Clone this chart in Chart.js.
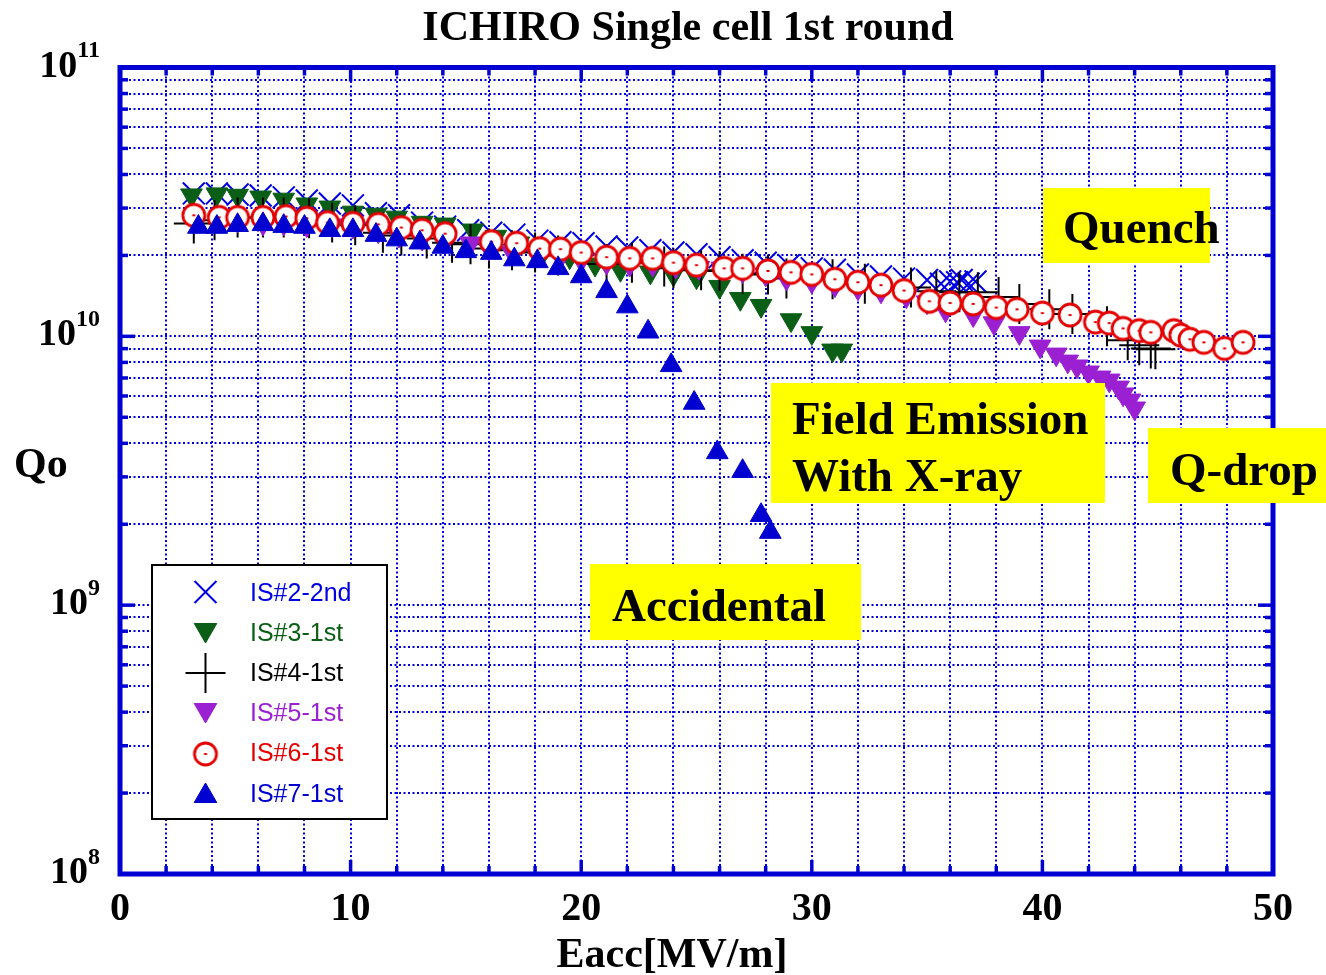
<!DOCTYPE html>
<html>
<head>
<meta charset="utf-8">
<title>ICHIRO Single cell 1st round</title>
<script src="https://cdn.jsdelivr.net/npm/chart.js"></script>
<style>
  html, body { margin: 0; padding: 0; background: #fff; }
  #c { display: block; }
</style>
</head>
<body>
<canvas id="c" width="1326" height="975"></canvas>
<script>
// ---- Measured data: Eacc [MV/m] and Qo (in units of 1e10) per cavity test ----
const eacc2 = [3.2, 4.2, 5.1, 6.1, 7.1, 8.1, 9.1, 10.1, 11.1, 12.1, 13.1, 14.1, 15.1, 16.1, 17.1, 18.1, 19.1, 20.1, 21.1, 22.0, 23.0, 24.0, 25.0, 26.0, 27.0, 28.0, 29.0, 30.0, 31.0, 32.0, 33.0, 34.0, 35.0, 35.6, 36.0, 36.3, 36.5, 36.8, 37.1];
const q2 = [3.40, 3.40, 3.37, 3.34, 3.29, 3.20, 3.12, 3.07, 2.87, 2.82, 2.65, 2.56, 2.48, 2.43, 2.39, 2.27, 2.24, 2.22, 2.16, 2.14, 2.09, 2.05, 2.02, 1.97, 1.92, 1.88, 1.84, 1.79, 1.77, 1.70, 1.67, 1.64, 1.62, 1.57, 1.60, 1.59, 1.62, 1.57, 1.60];

const eacc3 = [3.1, 4.2, 5.1, 6.1, 7.1, 8.1, 9.1, 10.1, 11.1, 12.0, 13.1, 14.1, 15.3, 16.3, 17.3, 18.4, 19.5, 20.6, 21.7, 23.0, 24.0, 25.0, 26.0, 26.9, 27.8, 29.1, 30.0, 30.9, 31.3];
const q3 = [3.35, 3.38, 3.34, 3.29, 3.23, 3.10, 3.02, 2.89, 2.84, 2.77, 2.65, 2.61, 2.48, 2.35, 2.22, 2.09, 1.97, 1.85, 1.77, 1.73, 1.70, 1.66, 1.53, 1.38, 1.30, 1.15, 1.03, 0.887, 0.887];

const eacc4 = [3.2, 4.1, 5.1, 6.2, 7.1, 8.2, 9.2, 10.2, 11.4, 12.2, 13.3, 14.4, 15.2, 16.0, 17.0, 18.0, 19.0, 21.1, 22.2, 23.6, 24.0, 25.2, 26.0, 27.0, 28.1, 28.9, 30.9, 32.3, 34.3, 35.4, 36.4, 37.2, 38.1, 39.0, 40.3, 41.3, 42.8, 43.7, 44.2, 44.7, 44.9];
const q4 = [2.63, 2.70, 2.77, 2.77, 2.77, 2.75, 2.65, 2.59, 2.43, 2.37, 2.31, 2.23, 2.20, 2.12, 2.09, 2.05, 2.00, 1.86, 1.88, 1.82, 1.79, 1.76, 1.75, 1.71, 1.70, 1.64, 1.63, 1.57, 1.52, 1.47, 1.46, 1.46, 1.40, 1.32, 1.26, 1.21, 1.09, 0.967, 0.926, 0.902, 0.895];

const eacc5 = [5.1, 6.2, 7.1, 8.1, 9.2, 10.1, 11.2, 12.1, 13.1, 14.1, 15.2, 16.0, 17.0, 18.1, 19.1, 20.0, 21.1, 22.1, 23.1, 24.1, 25.1, 26.1, 27.0, 28.0, 28.9, 30.0, 31.0, 32.0, 33.0, 34.1, 35.0, 35.8, 37.0, 37.9, 39.0, 39.9, 40.6, 41.1, 41.5, 42.0, 42.5, 42.9, 43.3, 43.5, 43.8, 44.0];
const q5 = [2.70, 2.63, 2.63, 2.59, 2.59, 2.56, 2.46, 2.37, 2.31, 2.25, 2.22, 2.12, 2.05, 2.00, 1.97, 1.92, 1.88, 1.85, 1.85, 1.82, 1.80, 1.79, 1.75, 1.70, 1.64, 1.60, 1.55, 1.51, 1.47, 1.41, 1.34, 1.25, 1.20, 1.12, 1.03, 0.918, 0.857, 0.807, 0.774, 0.735, 0.704, 0.686, 0.646, 0.609, 0.578, 0.540];

const eacc6 = [3.2, 4.3, 5.1, 6.2, 7.2, 8.1, 9.0, 10.1, 11.2, 12.2, 13.1, 14.1, 16.1, 17.2, 18.2, 19.1, 20.0, 21.1, 22.1, 23.1, 24.0, 25.0, 26.2, 27.0, 28.1, 29.1, 30.0, 31.0, 32.0, 33.0, 34.0, 35.1, 36.0, 37.0, 38.0, 38.9, 40.0, 41.2, 42.3, 42.9, 43.5, 44.2, 44.7, 45.7, 46.0, 46.4, 47.0, 47.9, 48.7];
const q6 = [2.82, 2.77, 2.77, 2.77, 2.79, 2.75, 2.65, 2.63, 2.61, 2.54, 2.48, 2.41, 2.25, 2.22, 2.12, 2.11, 2.05, 1.97, 1.95, 1.95, 1.88, 1.84, 1.79, 1.79, 1.75, 1.73, 1.70, 1.63, 1.59, 1.55, 1.48, 1.35, 1.33, 1.32, 1.28, 1.26, 1.22, 1.20, 1.13, 1.12, 1.07, 1.05, 1.035, 1.05, 1.01, 0.975, 0.95, 0.902, 0.95];

const eacc7 = [3.4, 4.2, 5.1, 6.2, 7.1, 8.0, 9.1, 10.1, 11.1, 12.0, 13.0, 14.0, 15.0, 16.1, 17.1, 18.1, 19.0, 20.0, 21.1, 22.0, 22.9, 23.9, 24.9, 25.9, 27.0, 27.8, 28.2];
const q7 = [2.55, 2.55, 2.59, 2.61, 2.57, 2.55, 2.48, 2.48, 2.38, 2.29, 2.23, 2.15, 2.07, 2.04, 1.93, 1.90, 1.79, 1.67, 1.47, 1.29, 1.04, 0.78, 0.565, 0.37, 0.315, 0.216, 0.187];

const seriesNames = ['IS#2-2nd', 'IS#3-1st', 'IS#4-1st', 'IS#5-1st', 'IS#6-1st', 'IS#7-1st'];
const Q_UNIT = 1e10;

// ---- Axis definitions ----
const xMin = 0, xMax = 50, xStep = 2, xLabelEvery = 10;
const yExponents = [8, 9, 10, 11];
const yMultipliers = [1, 2, 3, 4, 5, 6, 7, 8, 9];
const yTickValues = [];
yExponents.forEach(e => yMultipliers.forEach(m => {
  const v = m * Math.pow(10, e);
  if (v <= 1e11) yTickValues.push(v);
}));

const titleText = 'ICHIRO Single cell 1st round';
const xTitle = 'Eacc[MV/m]';
const yTitle = 'Qo';
const notes = [
  { lines: ['Quench'], box: [1043, 188, 167, 75], textX: 1063, base: [243] },
  { lines: ['Field Emission', 'With X-ray'], box: [771, 383, 334, 120], textX: 792, base: [434, 491] },
  { lines: ['Q-drop'], box: [1148, 428, 178, 75], textX: 1170, base: [485] },
  { lines: ['Accidental'], box: [590, 564, 271, 76], textX: 612, base: [621] }
];

// ---- Styling ----
const FRAME = '#0000D2';
const GRID = '#0000DC';
const XBLUE = '#0000E6';
const GREEN = '#0B5E16';
const PURPLE = '#9A20D2';
const RED = '#E40000';
const TRI_BLUE = '#0000D0';
const SERIF = '"Liberation Serif", "Times New Roman", serif';
const SANS = '"Liberation Sans", Arial, sans-serif';

function points(xs, qs) {
  return xs.map((x, i) => ({ x: x, y: qs[i] * Q_UNIT }));
}

// open circle with a centre dot, used as an image point style
function ringMarker() {
  const c = document.createElement('canvas');
  c.width = 30; c.height = 30;
  const g = c.getContext('2d');
  g.beginPath();
  g.arc(15, 15, 11, 0, Math.PI * 2);
  g.fillStyle = '#ffffff';
  g.fill();
  g.lineWidth = 2.8;
  g.strokeStyle = RED;
  g.stroke();
  g.fillStyle = RED;
  g.fillRect(13.5, 14, 3, 2);
  return c;
}
const ring = ringMarker();

const datasets = [
  { label: seriesNames[0], data: points(eacc2, q2), pointStyle: 'crossRot', pointRadius: 15.5,
    pointBorderColor: XBLUE, pointBackgroundColor: XBLUE, pointBorderWidth: 2, order: 5, color: XBLUE },
  { label: seriesNames[1], data: points(eacc3, q3), pointStyle: 'triangle', pointRotation: 180, pointRadius: 12.5,
    pointBorderColor: GREEN, pointBackgroundColor: GREEN, pointBorderWidth: 1, order: 4, color: GREEN },
  { label: seriesNames[2], data: points(eacc4, q4), pointStyle: 'cross', pointRadius: 20,
    pointBorderColor: '#000000', pointBackgroundColor: '#000000', pointBorderWidth: 2, order: 3, color: '#000000' },
  { label: seriesNames[3], data: points(eacc5, q5), pointStyle: 'triangle', pointRotation: 180, pointRadius: 12.5,
    pointBorderColor: PURPLE, pointBackgroundColor: PURPLE, pointBorderWidth: 1, order: 2, color: PURPLE },
  { label: seriesNames[4], data: points(eacc6, q6), pointStyle: ring, pointRadius: 12,
    pointBorderColor: RED, pointBackgroundColor: '#ffffff', pointBorderWidth: 0, order: 1, color: RED },
  { label: seriesNames[5], data: points(eacc7, q7), pointStyle: 'triangle', pointRotation: 0, pointRadius: 12.5,
    pointBorderColor: TRI_BLUE, pointBackgroundColor: TRI_BLUE, pointBorderWidth: 1, order: 0, color: TRI_BLUE }
];

function line(ctx, x1, y1, x2, y2) {
  ctx.beginPath();
  ctx.moveTo(x1, y1);
  ctx.lineTo(x2, y2);
  ctx.stroke();
}

// frame, inward ticks, labels, legend and notes
const decorations = {
  id: 'decorations',
  afterDraw(chart) {
    const ctx = chart.ctx;
    const a = chart.chartArea;
    const xs = chart.scales.x, ys = chart.scales.y;
    ctx.save();

    // inward ticks on all four sides
    ctx.strokeStyle = FRAME;
    ctx.lineWidth = 3.5;
    for (let v = xMin + xStep; v < xMax; v += xStep) {
      const px = xs.getPixelForValue(v);
      const len = v % xLabelEvery === 0 ? 14 : 8;
      line(ctx, px, a.bottom, px, a.bottom - len);
      line(ctx, px, a.top, px, a.top + len);
    }
    yTickValues.forEach(v => {
      if (v <= 1e8 || v >= 1e11) return;
      const py = ys.getPixelForValue(v);
      const decade = Math.abs(Math.log10(v) - Math.round(Math.log10(v))) < 1e-9;
      const len = decade ? 15 : 8;
      line(ctx, a.left, py, a.left + len, py);
      line(ctx, a.right, py, a.right - len, py);
    });

    // frame
    ctx.lineWidth = 5;
    ctx.strokeRect(a.left, a.top, a.right - a.left, a.bottom - a.top);

    // y decade labels with superscript exponents
    ctx.fillStyle = '#000';
    ctx.textAlign = 'left';
    ctx.textBaseline = 'alphabetic';
    yExponents.forEach(e => {
      const py = ys.getPixelForValue(Math.pow(10, e));
      const sup = String(e);
      ctx.font = 'bold 24px ' + SERIF;
      const sw = ctx.measureText(sup).width;
      ctx.font = 'bold 38px ' + SERIF;
      const bw = ctx.measureText('10').width;
      const right = 100;
      ctx.fillText('10', right - sw - bw, py + 9);
      ctx.font = 'bold 24px ' + SERIF;
      ctx.fillText(sup, right - sw, py - 10.5);
    });

    // titles
    ctx.font = 'bold 42px ' + SERIF;
    ctx.textAlign = 'center';
    ctx.fillText(titleText, 688, 40);
    ctx.fillText(xTitle, 672, 967);
    ctx.textAlign = 'left';
    ctx.fillText(yTitle, 14, 477);

    // legend
    const lx = 152, ly = 565, lw = 235, lh = 254;
    ctx.fillStyle = '#ffffff';
    ctx.fillRect(lx, ly, lw, lh);
    ctx.strokeStyle = '#000';
    ctx.lineWidth = 2;
    ctx.strokeRect(lx, ly, lw, lh);
    const rowY = [594, 634, 674, 714, 754, 795];
    const markY = [592, 630, 673, 710, 754, 796];
    ctx.font = '25px ' + SANS;
    ctx.textBaseline = 'middle';
    datasets.forEach((ds, i) => {
      const legendOpts = {
        pointStyle: ds.pointStyle,
        radius: ds.pointStyle === 'triangle' ? 13 : ds.pointRadius,
        rotation: ds.pointRotation || 0,
        borderWidth: ds.pointBorderWidth
      };
      ctx.save();
      ctx.fillStyle = ds.pointBackgroundColor;
      ctx.strokeStyle = ds.pointBorderColor;
      ctx.lineWidth = ds.pointBorderWidth;
      Chart.helpers.drawPoint(ctx, legendOpts, 205.5, markY[i]);
      ctx.restore();
      ctx.fillStyle = ds.color;
      ctx.fillText(ds.label, 250, rowY[i]);
    });

    // yellow notes
    ctx.textBaseline = 'alphabetic';
    ctx.font = 'bold 47px ' + SERIF;
    notes.forEach(n => {
      ctx.fillStyle = '#FFFF00';
      ctx.fillRect(n.box[0], n.box[1], n.box[2], n.box[3]);
      ctx.fillStyle = '#000';
      n.lines.forEach((t, k) => ctx.fillText(t, n.textX, n.base[k]));
    });

    ctx.restore();
  }
};

new Chart(document.getElementById('c'), {
  type: 'scatter',
  data: { datasets: datasets },
  options: {
    responsive: false,
    animation: false,
    devicePixelRatio: 1,
    events: [],
    layout: { autoPadding: false, padding: { top: 67.5, right: 53, left: 0, bottom: 0 } },
    plugins: { legend: { display: false }, tooltip: { enabled: false }, title: { display: false } },
    scales: {
      x: {
        type: 'linear',
        position: 'bottom',
        min: xMin,
        max: xMax,
        afterFit(s) { s.height = 101; },
        ticks: {
          stepSize: xStep,
          autoSkip: false,
          maxRotation: 0,
          padding: 12,
          color: '#000',
          font: { family: 'Liberation Serif', size: 40, weight: 'bold' },
          callback: v => (v % xLabelEvery === 0 ? String(v) : '')
        },
        grid: { color: GRID, lineWidth: 2, drawTicks: false },
        border: { display: false, dash: [2, 2.5] }
      },
      y: {
        type: 'logarithmic',
        position: 'left',
        min: 1e8,
        max: 1e11,
        afterFit(s) { s.width = 120; },
        afterBuildTicks(s) { s.ticks = yTickValues.map(v => ({ value: v })); },
        ticks: { display: false },
        grid: { color: GRID, lineWidth: 2, drawTicks: false },
        border: { display: false, dash: [2, 2.5] }
      }
    }
  },
  plugins: [decorations]
});
</script>
</body>
</html>
